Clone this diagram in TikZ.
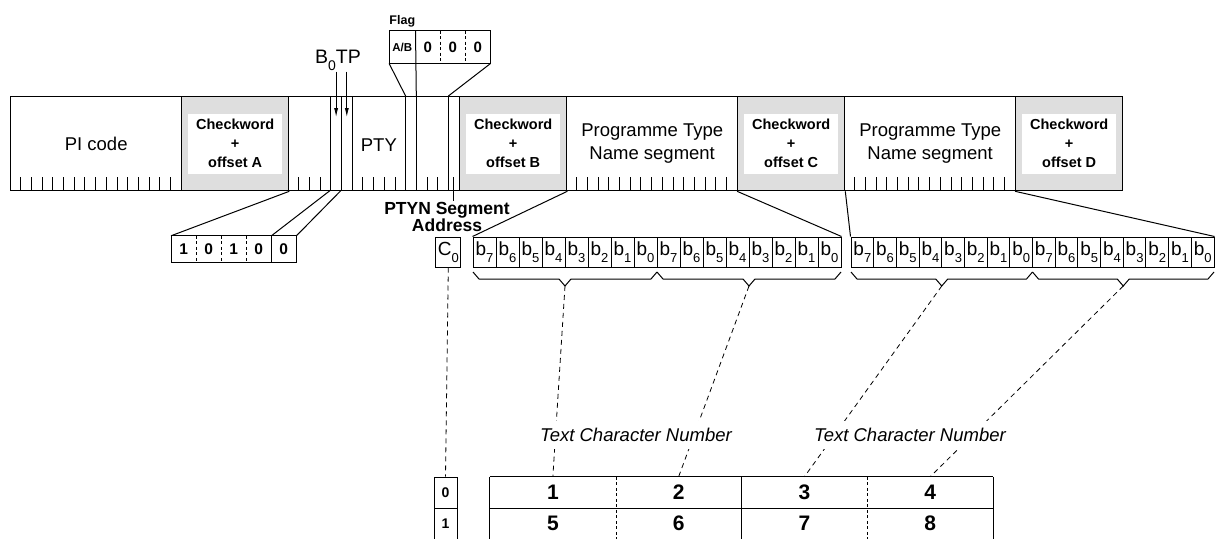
\documentclass[tikz,border=0pt]{standalone}
\usepackage{fontspec}
\setmainfont{Liberation Sans}
\usetikzlibrary{arrows.meta,positioning,calc,backgrounds}

% lowered index, as in b_7 or C_0
\newcommand{\lowsub}[2][13]{\raisebox{-.7ex}{\fontsize{#1}{#1}\selectfont #2}}

\begin{document}
\begin{tikzpicture}
[x=1pt,y=-1pt,
%
field/.style={shape=rectangle,draw=black,line width=1.3pt,inner sep=0pt,anchor=north west,minimum height=94pt},
info/.style={field,minimum width=171.08pt,font=\fontsize{18.5}{23}\selectfont,align=center},
check/.style={field,minimum width=106.92pt,fill=black!13},
cwtext/.style={shape=rectangle,fill=white,inner sep=0pt,minimum width=94pt,minimum height=60pt,align=center,font=\bfseries\fontsize{14.5}{19}\selectfont},
cell/.style={shape=rectangle,inner sep=0pt,minimum height=26pt},
bitbox/.style={cell,draw,line width=1pt,minimum height=30pt,font=\fontsize{19}{19}\selectfont},
rowbox/.style={cell,draw,line width=1pt,minimum width=23pt,minimum height=31pt,font=\bfseries\fontsize{14}{14}\selectfont},
tabcell/.style={cell,minimum width=125.75pt,minimum height=31pt,font=\bfseries\fontsize{21}{21}\selectfont},
%
tick/.style={line width=.8pt},
link/.style={line width=1pt},
thindash/.style={line width=.8pt,dash pattern=on 3pt off 2.5pt},
dline/.style={line width=.8pt,dash pattern=on 5pt off 4pt},
arr/.style={line width=.8pt,-{Latex[length=9pt,width=4pt]}},
tcn/.style={fill=white,inner sep=7pt,font=\itshape\fontsize{18.5}{18.5}\selectfont}]
%
\useasboundingbox (0,0) rectangle (1215,538);
%
% block row
\node (PI) [info] at (10,96) {PI code};
\node (Acw) [check] at (181.08,96) {};
\node (Binfo) [field,minimum width=171.08pt] at (288,96) {};
\node (Bcw) [check] at (459.08,96) {};
\node (Cinfo) [info] at (566,96) {Programme Type\\Name segment};
\node (Ccw) [check] at (737.08,96) {};
\node (Dinfo) [info] at (844,96) {Programme Type\\Name segment};
\node (Dcw) [check] at (1015.08,96) {};
\foreach \q in {A,B,C,D}
   \node (\q lab) [cwtext] at (\q cw.center) {Checkword\\+\\offset \q};
%%
% bit ticks
\foreach \s in {10,288,566,844}
   \foreach \k in {1,...,15}
      \draw[tick] (\s+\k*10.6923,177) -- ++(0,13);
%%
% block B bits
\foreach \k in {0,...,16} {
   \coordinate (t\k) at (288+\k*10.6923,96);
   \coordinate (u\k) at (288+\k*10.6923,190);
}
\foreach \k in {4,5,6,11,12,15}
   \draw[link] (t\k) -- (u\k);
\node (PTY) [font=\fontsize{18.5}{18.5}\selectfont] at ($(t6)!.5!(t11)+(0,49)$) {PTY};
%%
% B0 and TP
\node (B0TP) [anchor=base,inner sep=1pt,font=\fontsize{19.5}{19.5}\selectfont] at (338,63) {B\lowsub[14]{0}TP};
\coordinate (a0) at ($(t4)!.5!(t5)+(0,21)$);
\coordinate (a1) at ($(t5)!.5!(t6)+(0,21)$);
\draw[arr] (a0 |- B0TP.south) -- (a0);
\draw[arr] (a1 |- B0TP.south) -- (a1);
%%
% flag
\node (fAB) [cell,minimum width=26pt,minimum height=32.5pt,font=\bfseries\fontsize{11.5}{11.5}\selectfont] at (402.3,47) {A/B};
\foreach \i in {1,2,3}
   \node (f\i) [cell,minimum width=25pt,minimum height=32.5pt,font=\bfseries\fontsize{15}{15}\selectfont] at (402.9+25*\i,47) {0};
\node (flag) [above=0pt of fAB,font=\bfseries\fontsize{12.5}{12.5}\selectfont] {Flag};
\draw[link] (fAB.north west) rectangle (f3.south east);
\foreach \i in {1,2}
   \draw[thindash] (f\i.north east) -- (f\i.south east);
\draw[link] (fAB.north east) -- (t12);
\draw[link] (fAB.south west) -- (t11);
\draw[link] (f3.south east) -- (t15);
%%
% segment address
\coordinate (c0) at ($(u15)!.5!(u16)+(0,-13)$);
\node (PTYN) [inner sep=1pt,align=center,font=\bfseries\fontsize{17.5}{15}\selectfont] at (447,217) {PTYN Segment\\Address};
\draw[link] (c0) -- (c0 |- PTYN.north);
%%
% group type code
\foreach \v [count=\i] in {1,0,1,0,0}
   \node (g\i) [cell,minimum width=25pt,font=\bfseries\fontsize{15.5}{15.5}\selectfont] at (158.7+25*\i,249) {\v};
\draw[link] (g1.north west) rectangle (g5.south east);
\foreach \i in {1,2,3}
   \draw[thindash] (g\i.north east) -- (g\i.south east);
\draw[link] (g4.north east) -- (g4.south east);
\draw[link] (Acw.south east) -- (g1.north west);
\draw[link] (u4) -- (g4.north east);
\draw[link] (u5) -- (g5.north east);
%%
% character bits
\node (C0) [bitbox,minimum width=25pt] at (448.3,252) {C\lowsub{0}};
\foreach \n [count=\i] in {7,6,5,4,3,2,1,0,7,6,5,4,3,2,1,0} {
   \node (p\i) [bitbox,minimum width=23pt] at (461.5+23*\i,252) {b\lowsub{\n}};
   \node (q\i) [bitbox,minimum width=22.69pt] at (839.65+22.69*\i,252) {b\lowsub{\n}};
}
\draw[link] (Bcw.south east) -- (p1.north west);
\draw[link] (Ccw.south west) -- (p16.north east);
\draw[link] (Ccw.south east) -- (q1.north west);
\draw[link] (Dcw.south west) -- (q16.north east);
%%
% braces
\foreach \a/\b/\n in {473/657/1,657/841/2,851/1032.5/3,1032.5/1214/4} {
   \draw[link] (\a,272) -- (\a+6,279) -- ({(\a+\b)/2-6},279) -- ({(\a+\b)/2},286)
      -- ({(\a+\b)/2+6},279) -- (\b-6,279) -- (\b,272);
   \coordinate (tip\n) at ({(\a+\b)/2},286);
}
%%
% labels
\node (tcn1) [tcn] at (636,435) {Text Character Number};
\node (tcn2) [tcn] at (910,435) {Text Character Number};
%%
% table
\node (r0) [rowbox] at (445.5,492.5) {0};
\node (r1) [rowbox] at (445.5,523.5) {1};
\foreach \v [count=\i] in {1,2,3,4}
   \node (T\v) [tabcell] at (427.1+125.75*\i,492.5) {\v};
\foreach \v [count=\i] in {5,6,7,8}
   \node (T\v) [tabcell] at (427.1+125.75*\i,523.5) {\v};
\draw[link] (T1.north west) -- (T4.north east);
\draw[link] (T1.south west) -- (T4.south east);
\draw[link] (T1.north west) -- (T5.south west);
\draw[link] (T2.north east) -- (T6.south east);
\draw[link] (T4.north east) -- (T8.south east);
\draw[thindash] (T1.north east) -- (T5.south east);
\draw[thindash] (T3.north east) -- (T7.south east);
%%
% dashed leaders
\begin{pgfonlayer}{background}
\draw[dline] (C0.south) -- (r0.north);
\foreach \i in {1,...,4}
   \draw[dline] (tip\i) -- (T\i.north);
\end{pgfonlayer}
\end{tikzpicture}
\end{document}
